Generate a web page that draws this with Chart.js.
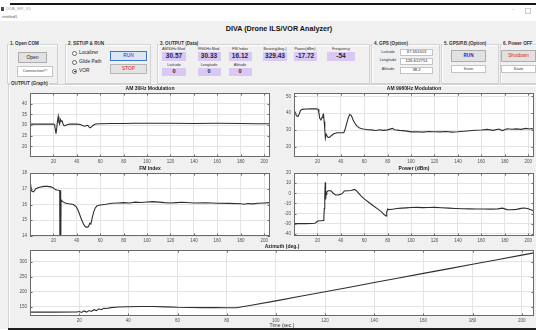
<!DOCTYPE html>
<html>
<head>
<meta charset="utf-8">
<script src="https://cdn.jsdelivr.net/npm/chart.js@4/dist/chart.umd.min.js"></script>
<style>
html,body{margin:0;padding:0;}
body{width:536px;height:331px;position:relative;overflow:hidden;background:#fff;font-family:"Liberation Sans",Arial,sans-serif;color:#222;}
.a{position:absolute;}
.t{position:absolute;white-space:nowrap;line-height:1;}
.panel{position:absolute;border:1px solid #d2d2d2;box-shadow:inset 1px 1px 0 #fff;}
.pt{position:absolute;background:#f0f0f0;font-size:4.6px;font-weight:bold;color:#333;padding:0 1px;line-height:1;white-space:nowrap;transform:translateY(-50%);}
.box{position:absolute;display:flex;align-items:center;justify-content:center;white-space:nowrap;line-height:1;box-sizing:border-box;}
.btn{background:#e1e1e1;border:1px solid #adadad;font-size:5px;}
.white{background:#fff;border:1px solid #c4c4c4;font-size:4.2px;color:#444;}
.lbl{position:absolute;white-space:nowrap;line-height:1;font-size:3.8px;color:#333;transform:translate(-50%,-50%);}
.val{background:#d9c8f3;font-size:6.5px;font-weight:bold;color:#1d1d3a;}
.radio{position:absolute;width:5px;height:5px;border:1px solid #666;border-radius:50%;background:#fff;box-sizing:border-box;}
.radio.on::after{content:"";position:absolute;left:1px;top:1px;width:1.5px;height:1.5px;border-radius:50%;background:#222;}
.rl{position:absolute;font-size:4.8px;color:#222;white-space:nowrap;line-height:1;transform:translateY(-50%);}
canvas{position:absolute;}
</style>
</head>
<body>
<!-- window caption -->
<div class="a" style="left:10px;top:3px;width:526px;height:2px;background:#161616;"></div>
<div class="a" style="left:1px;top:7px;width:3px;height:4px;background:#4a4a4a;"></div>
<div class="t" style="left:6px;top:7px;font-size:4px;color:#9a9a9a;">DIVA_MR_V1</div>
<div class="t" style="left:2px;top:14.5px;font-size:4px;color:#555;">untitled1</div>
<div class="t" style="left:512px;top:7px;font-size:5px;color:#bbb;">–</div>
<div class="a" style="left:525px;top:8px;width:4px;height:4px;border:1px solid #ccc;"></div>

<!-- figure background -->
<div class="a" style="left:0;top:21px;width:536px;height:308px;background:#f0f0f0;"></div>
<div class="t" style="left:279px;top:24.5px;transform:translateX(-50%);font-size:7.2px;font-weight:bold;color:#111;">DIVA (Drone ILS/VOR Analyzer)</div>

<!-- 1. Open COM -->
<div class="panel" style="left:7px;top:44px;width:49px;height:38px;"></div>
<div class="pt" style="left:9px;top:44px;">1. Open COM</div>
<div class="box btn" style="left:18px;top:52px;width:29px;height:11px;">Open</div>
<div class="box white" style="left:17px;top:66px;width:36px;height:11px;">Connection!!!</div>

<!-- 2. SETUP & RUN -->
<div class="panel" style="left:65px;top:44px;width:84px;height:38px;"></div>
<div class="pt" style="left:67px;top:44px;">2. SETUP &amp; RUN</div>
<div class="radio" style="left:72px;top:50.5px;"></div><div class="rl" style="left:79px;top:53px;">Localizer</div>
<div class="radio" style="left:72px;top:59.5px;"></div><div class="rl" style="left:79px;top:62px;">Glide Path</div>
<div class="radio on" style="left:72px;top:68.5px;"></div><div class="rl" style="left:79px;top:71px;">VOR</div>
<div class="box" style="left:110px;top:51px;width:37px;height:10px;background:#dbe6f4;border:1px solid #3c78c8;color:#2323d0;font-size:4.8px;">RUN</div>
<div class="box" style="left:110px;top:64px;width:37px;height:10px;background:#e3e3e3;border:1px solid #b5b5b5;color:#e02020;font-size:4.8px;">STOP</div>

<!-- 3. OUTPUT (Data) -->
<div class="panel" style="left:157px;top:44px;width:211px;height:38px;"></div>
<div class="pt" style="left:159px;top:44px;">3. OUTPUT (Data)</div>
<div id="outData"></div>

<!-- 4. GPS (Option) -->
<div class="panel" style="left:371px;top:44px;width:67px;height:38px;"></div>
<div class="pt" style="left:373px;top:44px;">4. GPS (Option)</div>
<div id="gpsData"></div>

<!-- 5. GPS/P.B.(Option) -->
<div class="panel" style="left:441px;top:44px;width:56px;height:38px;"></div>
<div class="pt" style="left:443px;top:44px;">5. GPS/P.B.(Option)</div>
<div class="box btn" style="left:451px;top:50px;width:35px;height:12px;color:#2323d0;font-weight:bold;font-size:4.6px;">RUN</div>
<div class="box white" style="left:451px;top:65px;width:35px;height:8px;">State</div>

<!-- 6. Power OFF -->
<div class="panel" style="left:500px;top:44px;width:40px;height:38px;"></div>
<div class="pt" style="left:502px;top:44px;">6. Power OFF</div>
<div class="box btn" style="left:501px;top:50px;width:35px;height:12px;color:#e02020;font-size:4.6px;">Shutdown</div>
<div class="box white" style="left:501px;top:65px;width:35px;height:8px;">State</div>

<!-- OUTPUT (Graph) -->
<div class="panel" style="left:8px;top:84px;width:530px;height:243px;"></div>
<div class="pt" style="left:10px;top:84px;">OUTPUT (Graph)</div>

<canvas id="cAm30" width="274" height="84" style="left:0;top:84px;"></canvas>
<canvas id="cAm9960" width="262" height="84" style="left:274px;top:84px;"></canvas>
<canvas id="cFm" width="274" height="84" style="left:0;top:164px;"></canvas>
<canvas id="cPower" width="262" height="84" style="left:274px;top:164px;"></canvas>
<canvas id="cAz" width="536" height="88" style="left:0;top:242px;"></canvas>

<div class="a" style="left:8px;top:328px;width:528px;height:2px;background:#202020;"></div>

<script>
// ---- readouts ----
const OUT_LABELS = ['AM30Hz Mod.', '9960Hz Mod.', 'FM Index', 'Bearing(deg.)', 'Power(dBm)', 'Frequency'];
const OUT_VALUES = ['30.57', '30.33', '16.12', '329.43', '-17.72', '-54'];
const POS_LABELS = ['Latitude', 'Longitude', 'Altitude'];
const POS_VALUES = ['0', '0', '0'];
const GPS_LABELS = ['Latitude', 'Longitude', 'Altitude'];
const GPS_VALUES = ['37.551613', '126.612751', '38.2'];

// ---- time series (time in sec.) ----
const TIME_TICKS = [20, 40, 60, 80, 100, 120, 140, 160, 180, 200];

const AM30_T = [0, 10, 20, 21, 21.6, 22.2, 22.8, 23.4, 24.1, 24.7, 25.3, 26, 26.7, 27.4, 28.2, 29.2, 30.5, 32, 34, 37, 40, 43, 45, 46.5, 47.5, 48.5, 49.5, 50.5, 51.5, 52.5, 54, 56, 60, 70, 80, 90, 100, 120, 140, 160, 180, 195, 205];
const AM30_V = [30.4, 30.4, 30.4, 30.2, 28.0, 25.9, 28.5, 31.5, 34.0, 31.2, 30.4, 32.6, 31.7, 31.9, 30.6, 29.6, 29.8, 30.2, 30.4, 30.5, 30.4, 30.2, 29.8, 29.4, 29.5, 29.9, 29.8, 29.0, 28.7, 29.1, 29.9, 30.5, 30.6, 30.7, 30.7, 30.8, 30.8, 30.8, 30.7, 30.8, 30.7, 30.6, 30.57];
const AM30_TICKS = [20, 25, 30, 35, 40];

const AM9960_T = [0, 1, 2, 3.4, 4.5, 5.5, 7, 10, 15, 19.5, 20.5, 21.2, 22, 23, 24, 24.6, 25.2, 25.8, 26.3, 26.8, 27.5, 28.3, 29.2, 30.5, 32, 34, 37, 40, 42.5, 43.5, 45, 46.5, 47.7, 49, 50.5, 52, 54, 56, 59, 63, 66, 70, 73, 76, 80, 84, 86, 90, 95, 100, 105, 110, 115, 120, 125, 130, 135, 140, 145, 150, 155, 160, 165, 170, 175, 178, 182, 186, 190, 194, 198, 201, 203, 205];
const AM9960_V = [41.5, 40.5, 38.6, 38.0, 39.5, 41.5, 42.3, 42.5, 42.6, 42.6, 42.3, 40.5, 37.0, 36.0, 37.5, 39.0, 39.4, 35.0, 30.5, 25.2, 27.5, 26.5, 25.6, 25.8, 26.8, 27.8, 28.4, 28.4, 28.4, 30.0, 34.0, 37.5, 39.3, 38.6, 36.0, 34.0, 32.2, 31.2, 30.6, 30.2, 30.1, 29.7, 30.2, 29.8, 30.1, 31.0, 30.2, 29.8, 29.5, 28.9, 29.0, 28.8, 29.1, 29.0, 28.9, 29.1, 28.8, 29.0, 29.3, 29.6, 29.9, 30.0, 30.4, 29.8, 30.6, 29.7, 30.8, 30.5, 30.7, 30.4, 31.0, 30.6, 30.9, 30.33];
const AM9960_TICKS = [20, 30, 40, 50];

const FM_T = [0, 0.6, 1.5, 3, 5, 8, 12, 15, 18, 20, 21.5, 23, 24.5, 25.4, 25.6, 25.9, 26.2, 26.5, 27, 28, 30, 33, 37, 39.5, 41, 42.5, 44, 45.5, 47, 48.5, 50, 51, 52, 53, 54.3, 55.5, 57, 60, 65, 70, 75, 80, 85, 90, 95, 100, 105, 110, 115, 120, 125, 130, 140, 150, 160, 170, 180, 183, 186, 190, 195, 200, 205];
const FM_V = [17.3, 17.2, 16.85, 16.8, 17.0, 17.1, 17.15, 17.15, 17.12, 17.05, 16.95, 16.92, 16.9, 16.85, 12.0, 16.9, 12.0, 16.3, 16.25, 16.18, 16.1, 16.05, 16.0, 15.85, 15.65, 15.35, 15.05, 14.8, 14.6, 14.55, 14.6, 14.8, 14.75, 15.1, 15.5, 15.75, 15.9, 15.97, 16.02, 16.08, 16.1, 16.12, 16.1, 16.15, 16.13, 16.16, 16.18, 16.15, 16.12, 16.1, 16.12, 16.14, 16.1, 16.11, 16.08, 16.07, 16.05, 16.02, 16.06, 16.04, 16.08, 16.1, 16.12];
const FM_TICKS = [14, 15, 16, 17, 18];

const POWER_T = [0, 5, 10, 15, 18, 19.5, 20.5, 22, 24, 25, 25.5, 25.9, 26.3, 26.7, 27, 27.4, 28, 29, 30.5, 32, 33.5, 35.5, 38, 41, 43, 46, 49, 51.5, 53, 55, 57, 60, 64, 68, 72, 75, 76.5, 78, 78.6, 79.2, 80, 81, 84, 88, 92, 96, 100, 105, 110, 115, 120, 126, 132, 138, 144, 150, 156, 162, 168, 174, 178, 182, 186, 190, 194, 197, 200, 203, 205];
const POWER_V = [-29.8, -29.8, -29.8, -29.7, -29.5, -28.0, -27.2, -27.0, -27.0, -26.8, -24.0, -15.0, -3.0, 11.0, -6.0, -1.0, 1.5, 2.3, 2.8, 2.0, 0.0, -1.6, -1.5, -0.5, 2.3, 2.5, 2.7, 3.8, 2.8, 0.5, -2.3, -5.5, -9.0, -12.5, -15.8, -18.5, -20.5, -21.8, -22.3, -18.5, -15.5, -16.0, -15.6, -15.0, -14.6, -14.3, -14.0, -13.8, -14.1, -13.9, -13.8, -14.2, -14.6, -14.9, -15.2, -15.3, -15.5, -15.4, -15.6, -15.3, -14.6, -16.0, -16.2, -15.8, -14.8, -14.4, -15.2, -16.4, -17.72];
const POWER_TICKS = [-40, -30, -20, -10, 0, 10, 20];

const AZ_T = [0, 10, 19, 20, 21, 22, 23, 24, 25, 26, 27, 28, 29, 30, 31, 33, 36, 40, 45, 50, 55, 60, 65, 70, 75, 80, 84, 90, 100, 110, 120, 130, 140, 150, 160, 170, 180, 190, 200, 205];
const AZ_V = [132, 132, 132.5, 134, 131, 136, 132, 137, 134, 140, 137, 143, 140, 145, 144, 147, 149, 150, 150.5, 150.5, 149.5, 148, 147.5, 147, 147, 146.5, 146.5, 155, 169.5, 185, 200, 215, 230.5, 245.5, 261, 276, 291.5, 306.5, 322, 329.43];
const AZ_TICKS = [150, 200, 250, 300];

// ---- readout panels ----
function el(parent, cls, style, text) {
  const d = document.createElement('div');
  d.className = cls; d.style.cssText = style; d.textContent = text;
  parent.appendChild(d); return d;
}
const OUT_CX = [174, 209, 240, 275, 305, 341];
const OUT_W = [24, 23, 23, 24, 23, 28];
const outRoot = document.getElementById('outData');
OUT_LABELS.forEach((s, i) => el(outRoot, 'lbl', `left:${OUT_CX[i]}px;top:49.5px;`, s));
OUT_VALUES.forEach((s, i) => el(outRoot, 'box val', `left:${OUT_CX[i] - OUT_W[i] / 2}px;top:52px;width:${OUT_W[i]}px;height:9px;`, s));
POS_LABELS.forEach((s, i) => el(outRoot, 'lbl', `left:${OUT_CX[i]}px;top:65.5px;`, s));
POS_VALUES.forEach((s, i) => el(outRoot, 'box val', `left:${OUT_CX[i] - OUT_W[i] / 2}px;top:68px;width:${OUT_W[i]}px;height:8px;font-size:5.5px;`, s));

const gpsRoot = document.getElementById('gpsData');
const GPS_Y = [52.5, 61, 70];
GPS_LABELS.forEach((s, i) => el(gpsRoot, 'lbl', `left:388px;top:${GPS_Y[i]}px;`, s));
GPS_VALUES.forEach((s, i) => el(gpsRoot, 'box white', `left:400px;top:${GPS_Y[i] - 3.5}px;width:33px;height:7px;color:#222;`, s));

// ---- MATLAB-style axes box: white plot area, full frame, inward ticks, title ----
const axesBox = {
  id: 'axesBox',
  beforeDraw(chart) {
    const { ctx, chartArea: a } = chart;
    ctx.save();
    ctx.fillStyle = '#ffffff';
    ctx.fillRect(a.left, a.top, a.right - a.left, a.bottom - a.top);
    ctx.restore();
  },
  afterDraw(chart, args, opts) {
    const { ctx, chartArea: a, scales } = chart;
    ctx.save();
    ctx.strokeStyle = '#6a6a6a';
    ctx.lineWidth = 1;
    ctx.strokeRect(a.left + 0.5, a.top + 0.5, a.right - a.left - 1, a.bottom - a.top - 1);
    ctx.beginPath();
    scales.x.ticks.forEach(t => {
      const px = Math.round(scales.x.getPixelForValue(t.value)) + 0.5;
      ctx.moveTo(px, a.bottom); ctx.lineTo(px, a.bottom - 2.5);
      ctx.moveTo(px, a.top); ctx.lineTo(px, a.top + 2.5);
    });
    scales.y.ticks.forEach(t => {
      const py = Math.round(scales.y.getPixelForValue(t.value)) + 0.5;
      ctx.moveTo(a.left, py); ctx.lineTo(a.left + 2.5, py);
      ctx.moveTo(a.right, py); ctx.lineTo(a.right - 2.5, py);
    });
    ctx.stroke();
    ctx.fillStyle = '#222';
    ctx.font = 'bold 5px "Liberation Sans", Arial, sans-serif';
    ctx.textAlign = 'center';
    ctx.textBaseline = 'middle';
    ctx.fillText(opts.title, (a.left + a.right) / 2, a.top - (opts.titleGap || 4));
    ctx.restore();
  }
};

function plot(id, ts, vs, cfg) {
  const pts = ts.map((t, i) => ({ x: t, y: vs[i] }));
  const tickFont = { family: '"Liberation Sans", Arial, sans-serif', size: 4.5 };
  return new Chart(document.getElementById(id), {
    type: 'line',
    data: { datasets: [{ data: pts, borderColor: '#2e2e2e', borderWidth: 1.1, pointRadius: 0, tension: 0, fill: false }] },
    options: {
      responsive: false,
      animation: false,
      devicePixelRatio: 1,
      events: [],
      layout: { padding: { left: 0, top: cfg.padTop, right: cfg.padRight, bottom: 0 } },
      plugins: {
        legend: { display: false },
        tooltip: { enabled: false },
        axesBox: { title: cfg.title, titleGap: cfg.titleGap }
      },
      scales: {
        x: {
          type: 'linear', min: 0, max: 205,
          afterBuildTicks: s => { s.ticks = TIME_TICKS.map(v => ({ value: v })); },
          afterFit: s => { s.height = cfg.xh; },
          grid: { color: '#e4e4e4', drawTicks: false },
          border: { display: false },
          ticks: { font: tickFont, color: '#505050', padding: 2, maxRotation: 0, autoSkip: false },
          title: cfg.xTitle ? { display: true, text: cfg.xTitle, font: { family: tickFont.family, size: 5 }, color: '#333', padding: { top: 0, bottom: 1.5 } } : { display: false }
        },
        y: {
          type: 'linear', min: cfg.min, max: cfg.max,
          afterBuildTicks: s => { s.ticks = cfg.ticks.map(v => ({ value: v })); },
          afterFit: s => { s.width = cfg.yw; },
          grid: { color: '#e4e4e4', drawTicks: false },
          border: { display: false },
          ticks: { font: tickFont, color: '#505050', padding: 3, autoSkip: false }
        }
      }
    },
    plugins: [axesBox]
  });
}

plot('cAm30', AM30_T, AM30_V, { title: 'AM 30Hz Modulation', min: 15, max: 45, ticks: AM30_TICKS, yw: 30, padTop: 9, padRight: 4, xh: 11 });
plot('cAm9960', AM9960_T, AM9960_V, { title: 'AM 9960Hz Modulation', min: 14, max: 52, ticks: AM9960_TICKS, yw: 20, padTop: 9, padRight: 2, xh: 11 });
plot('cFm', FM_T, FM_V, { title: 'FM Index', min: 14, max: 18, ticks: FM_TICKS, yw: 30, padTop: 9, padRight: 4, xh: 12 });
plot('cPower', POWER_T, POWER_V, { title: 'Power (dBm)', min: -42, max: 20, ticks: POWER_TICKS, yw: 20, padTop: 9, padRight: 2, xh: 12 });
plot('cAz', AZ_T, AZ_V, { title: 'Azimuth (deg.)', titleGap: 3, min: 119, max: 339, ticks: AZ_TICKS, yw: 30, padTop: 8, padRight: 2, xh: 14, xTitle: 'Time (sec.)' });
</script>
</body>
</html>
